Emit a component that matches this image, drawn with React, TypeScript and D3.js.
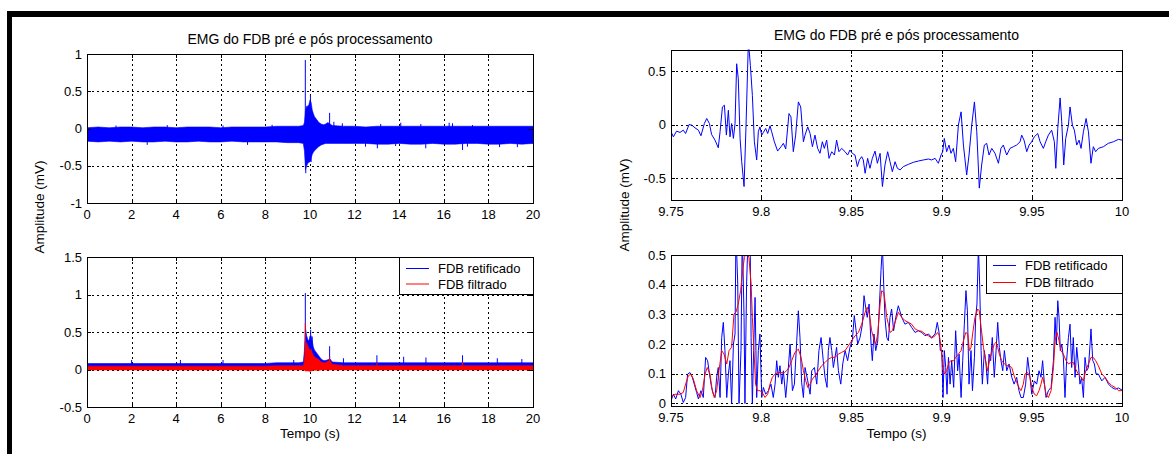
import React from "react";
import * as d3 from "d3";

// ---------------- tick data ----------------
const leftXTicks = [0, 2, 4, 6, 8, 10, 12, 14, 16, 18, 20];
const leftXLabels = ["0", "2", "4", "6", "8", "10", "12", "14", "16", "18", "20"];
const tlYTicks = [-1, -0.5, 0, 0.5, 1];
const tlYLabels = ["-1", "-0.5", "0", "0.5", "1"];
const blYTicks = [-0.5, 0, 0.5, 1, 1.5];
const blYLabels = ["-0.5", "0", "0.5", "1", "1.5"];
const rightXTicksMs = [0, 50, 100, 150, 200, 250];
const rightXLabels = ["9.75", "9.8", "9.85", "9.9", "9.95", "10"];
const trYTicks = [-0.5, 0, 0.5];
const trYLabels = ["-0.5", "0", "0.5"];
const brYTicks = [0, 0.1, 0.2, 0.3, 0.4, 0.5];
const brYLabels = ["0", "0.1", "0.2", "0.3", "0.4", "0.5"];

// ---------------- left panels: envelope of dense signal (s, mV) ----------------
const envT = [0, 0.5, 1, 1.5, 2, 2.5, 3, 3.5, 4, 4.5, 5, 5.5, 6, 6.5, 7, 7.5, 8, 8.5, 9, 9.5,
  9.7, 9.75, 9.8, 9.85, 9.9, 9.95, 10, 10.05, 10.1, 10.15, 10.2, 10.3, 10.4, 10.5, 10.6, 10.7, 10.8, 10.9, 11,
  11.5, 12, 12.5, 13, 13.5, 14, 14.5, 15, 15.5, 16, 16.5, 17, 17.5, 18, 18.5, 19, 19.5, 20];
const rawHi = [0.01, 0.02, 0.01, 0.02, 0.02, 0.01, 0.02, 0.02, 0.01, 0.02, 0.02, 0.02, 0.01, 0.02, 0.02, 0.02, 0.02, 0.03, 0.03, 0.03,
  0.04, 0.08, 0.25, 0.3, 0.3, 0.32, 0.38, 0.35, 0.25, 0.2, 0.16, 0.12, 0.08, 0.06, 0.05, 0.06, 0.08, 0.06, 0.04,
  0.03, 0.03, 0.02, 0.03, 0.03, 0.03, 0.03, 0.03, 0.03, 0.03, 0.03, 0.03, 0.03, 0.03, 0.03, 0.03, 0.03, 0.03];
const rawLo = [-0.17, -0.18, -0.17, -0.18, -0.17, -0.18, -0.18, -0.17, -0.18, -0.18, -0.17, -0.18, -0.18, -0.17, -0.18, -0.18, -0.18, -0.18, -0.19, -0.19,
  -0.2, -0.3, -0.55, -0.5, -0.47, -0.45, -0.45, -0.4, -0.35, -0.32, -0.3, -0.27, -0.24, -0.22, -0.21, -0.2, -0.2, -0.2, -0.2,
  -0.2, -0.2, -0.2, -0.21, -0.21, -0.2, -0.21, -0.21, -0.2, -0.21, -0.21, -0.2, -0.2, -0.21, -0.21, -0.2, -0.21, -0.2];
const rectHi = [0.08, 0.08, 0.08, 0.08, 0.08, 0.08, 0.08, 0.08, 0.08, 0.08, 0.08, 0.08, 0.08, 0.08, 0.08, 0.08, 0.08, 0.09, 0.09, 0.09,
  0.1, 0.25, 0.55, 0.45, 0.4, 0.38, 0.45, 0.45, 0.38, 0.3, 0.26, 0.22, 0.18, 0.14, 0.12, 0.12, 0.13, 0.14, 0.1,
  0.09, 0.09, 0.09, 0.09, 0.09, 0.09, 0.09, 0.09, 0.09, 0.09, 0.09, 0.09, 0.09, 0.09, 0.09, 0.09, 0.09, 0.09];
const filtHi = [0.045, 0.045, 0.045, 0.045, 0.045, 0.045, 0.045, 0.045, 0.045, 0.045, 0.045, 0.045, 0.045, 0.045, 0.045, 0.045, 0.045, 0.05, 0.05, 0.05,
  0.05, 0.12, 0.37, 0.35, 0.32, 0.28, 0.25, 0.27, 0.22, 0.19, 0.17, 0.15, 0.13, 0.1, 0.09, 0.09, 0.11, 0.12, 0.07,
  0.05, 0.05, 0.05, 0.05, 0.05, 0.05, 0.05, 0.05, 0.05, 0.05, 0.05, 0.05, 0.05, 0.05, 0.05, 0.05, 0.05, 0.05];
const filtLo = [-0.005, -0.005, -0.005, -0.005, -0.005, -0.005, -0.005, -0.005, -0.005, -0.005, -0.005, -0.005, -0.005, -0.005, -0.005, -0.005, -0.005, -0.005, -0.005, -0.005,
  -0.005, -0.01, -0.02, -0.02, -0.02, -0.02, -0.025, -0.02, -0.015, -0.01, -0.01, -0.01, -0.01, -0.005, -0.005, -0.005, -0.005, -0.005, -0.005,
  -0.005, -0.005, -0.005, -0.005, -0.005, -0.005, -0.005, -0.005, -0.005, -0.005, -0.005, -0.005, -0.005, -0.005, -0.005, -0.005, -0.005, -0.005];

// isolated spikes (s, mV)
const rawSpikeT = [9.79, 9.81, 10.02, 10.05, 10.88, 11.07, 11.45, 13.17, 14.07, 14.97, 16.24, 16.39, 17.29,
  1.3, 3.6, 6.1, 8.3, 12.49, 13.02, 13.84, 15.19, 16.84, 17.06, 18.5, 19.3, 2.7, 7.2];
const rawSpikeV = [0.92, -0.6, 0.45, -0.45, 0.21, 0.09, 0.07, 0.06, 0.078, 0.06, 0.078, 0.07, 0.047,
  0.04, 0.045, 0.04, 0.05, -0.244, -0.266, -0.235, -0.266, -0.289, -0.244, -0.25, -0.25, -0.22, -0.22];
const rectSpikeT = [9.79, 10.03, 10.1, 10.88, 13.0, 14.2, 15.2, 16.84, 2.0, 4.19, 6.1, 9.27, 11.5, 18.4, 19.5];
const rectSpikeV = [1.02, 0.53, 0.44, 0.31, 0.19, 0.17, 0.16, 0.19, 0.127, 0.127, 0.127, 0.127, 0.15, 0.15, 0.14];
const filtSpikeT = [9.79, 10.88, 16.84, 13.0];
const filtSpikeV = [0.62, 0.17, 0.1, 0.09];

// ---------------- right panels: 9.75 s .. 10 s (time in ms after 9.75 s) ----------------
const rawMs = [0, 1.3, 3.1, 5.0, 6.8, 8.1, 10.0, 11.5, 13.3, 15.2, 16.6, 18.5, 19.8, 21.3, 22.5, 24.4, 26.2, 27.2, 28.5, 29.6,
  30.7, 31.8, 32.7, 33.6, 34.6, 35.5, 36.4, 37.3, 38.3, 39.2, 40.5, 41.6, 42.9, 44.0, 45.1, 46.2, 47.5, 48.4, 49.3, 50.3,
  51.2, 52.5, 53.6, 54.9, 55.8, 57.3, 59.1, 61.0, 62.3, 63.6, 65.4, 66.5, 67.8, 69.1, 70.6, 71.9, 73.4, 74.3, 75.8, 77.1,
  78.4, 79.8, 81.3, 82.6, 83.9, 85.0, 86.3, 87.6, 89.1, 90.6, 91.8, 93.1, 94.6, 96.5, 97.9, 99.2, 100.5, 102.0, 103.3, 104.4,
  105.7, 106.6, 107.6, 109.0, 110.3, 111.6, 113.1, 114.4, 115.9, 117.2, 118.6, 120.1, 121.4, 122.7, 124.2, 125.5, 127.0, 128.8, 131.6, 134.3,
  137.1, 139.9, 142.7, 144.5, 146.4, 148.2, 149.7, 150.6, 151.5, 152.8, 154.1, 155.2, 156.5, 157.8, 159.3, 160.8, 162.1, 163.9, 165.2, 166.7,
  168.2, 169.5, 170.9, 172.2, 173.7, 175.0, 176.3, 177.8, 179.6, 181.5, 182.9, 184.2, 186.1, 187.9, 189.8, 191.6, 193.5, 194.4, 195.7, 197.2,
  198.5, 199.9, 201.4, 203.3, 204.6, 206.4, 207.7, 209.2, 211.0, 212.5, 213.3, 214.4, 215.7, 216.6, 217.7, 218.8, 220.3, 221.2, 222.5, 223.6,
  224.9, 226.2, 227.3, 228.6, 230.1, 231.4, 232.8, 234.1, 235.4, 236.9, 239.7, 242.4, 245.2, 248.0, 250.0];
const rawV = [-0.068, -0.115, -0.062, -0.074, -0.053, -0.084, 0, -0.006, -0.031, -0.053, -0.105, 0.009, 0.056, 0.009, -0.093, -0.146, -0.217, -0.068, 0.164, 0.18,
  -0.099, 0.133, -0.115, 0.009, -0.13, 0.009, 0.567, 0.427, -0.13, -0.347, -0.579, -0.006, 0.78, 0.551, 0.272, -0.161, -0.331, -0.068, -0.022, -0.099,
  -0.074, -0.037, -0.084, -0.012, -0.068, -0.161, -0.248, -0.207, -0.176, -0.229, 0.102, 0.071, -0.254, -0.099, 0.211, 0.164, -0.161, -0.099, -0.022, -0.084,
  -0.207, -0.099, -0.223, -0.269, -0.161, -0.223, -0.146, -0.316, -0.254, -0.285, -0.146, -0.254, -0.223, -0.254, -0.285, -0.238, -0.269, -0.285, -0.393, -0.331,
  -0.3, -0.331, -0.455, -0.316, -0.409, -0.316, -0.248, -0.362, -0.269, -0.579, -0.378, -0.254, -0.347, -0.44, -0.347, -0.409, -0.424, -0.393, -0.372, -0.353,
  -0.341, -0.331, -0.322, -0.331, -0.316, -0.362, -0.285, -0.254, -0.13, -0.254, -0.192, -0.269, -0.223, -0.347, -0.006, 0.118, -0.192, -0.471, -0.285, -0.006,
  0.211, -0.068, -0.594, -0.378, -0.192, -0.176, -0.285, -0.223, -0.269, -0.362, -0.223, -0.192, -0.285, -0.223, -0.207, -0.192, -0.161, -0.099, -0.146, -0.254,
  -0.192, -0.161, -0.115, -0.084, -0.161, -0.223, -0.161, -0.099, -0.053, -0.161, -0.409, -0.037, 0.248, 0.025, -0.378, -0.13, -0.006, 0.164, -0.006, -0.053,
  -0.192, -0.146, -0.223, -0.068, 0.056, -0.068, -0.362, -0.207, -0.254, -0.223, -0.207, -0.176, -0.161, -0.139, -0.146];

const rectMs = [0, 1.3, 2.6, 4.1, 5.5, 6.8, 8.1, 9.2, 10.5, 11.8, 12.9, 14.2, 15.2, 16.6, 17.9, 19.2, 20.3, 21.6, 22.5, 23.5,
  24.4, 25.3, 26.2, 27.2, 28.1, 29.0, 29.9, 30.9, 31.8, 32.7, 33.6, 34.6, 35.5, 36.0, 37.0, 37.7, 38.8, 39.5, 40.5, 41.0,
  41.9, 42.9, 43.8, 44.4, 45.1, 45.8, 46.6, 47.5, 48.4, 49.3, 50.3, 51.2, 52.5, 54.0, 55.4, 56.7, 57.7, 58.6, 59.5, 60.4,
  61.4, 62.3, 63.6, 65.0, 66.0, 67.3, 68.4, 69.7, 70.6, 71.5, 72.4, 73.4, 74.3, 75.8, 77.1, 78.0, 79.5, 80.8, 82.0, 83.2,
  84.4, 85.4, 86.5, 87.2, 88.1, 89.1, 90.0, 90.9, 91.8, 92.8, 94.1, 95.2, 96.5, 97.9, 99.2, 100.5, 101.6, 102.6, 103.5, 104.8,
  106.1, 107.0, 107.9, 108.8, 109.8, 110.9, 111.6, 112.5, 113.5, 114.6, 115.9, 116.4, 117.2, 117.9, 118.6, 119.6, 120.5, 121.4, 122.3, 123.4,
  124.6, 126.0, 127.9, 129.7, 131.6, 133.4, 135.3, 137.1, 139.0, 140.8, 142.7, 144.5, 146.4, 147.6, 148.6, 149.3, 150.1, 150.8, 151.5, 152.3,
  153.0, 153.8, 154.7, 155.6, 156.7, 157.8, 158.9, 159.7, 160.8, 161.7, 162.6, 163.5, 164.3, 165.2, 166.3, 167.1, 168.2, 168.9, 169.6, 170.4,
  171.1, 171.9, 172.6, 173.7, 174.6, 175.5, 176.3, 177.2, 178.1, 179.2, 180.2, 181.1, 182.0, 182.9, 183.9, 184.8, 186.1, 187.4, 188.9, 190.2,
  191.6, 192.9, 194.0, 195.3, 196.6, 197.7, 199.0, 200.0, 201.4, 202.7, 204.0, 205.1, 206.0, 207.0, 207.9, 209.2, 210.7, 212.0, 212.9, 213.6,
  214.4, 215.1, 215.8, 216.6, 217.5, 218.4, 219.3, 220.3, 221.2, 222.1, 223.0, 224.0, 224.9, 225.8, 226.7, 227.6, 228.6, 229.5, 230.4, 231.4,
  232.3, 232.8, 233.8, 234.7, 235.6, 236.9, 238.8, 240.6, 242.5, 244.3, 246.2, 248.0, 250.0];
const rectV = [0.009, 0.031, 0.015, 0.043, 0.031, 0.003, 0.02, 0.099, 0.104, 0.088, 0.065, 0.037, 0.015, 0.043, 0.02, 0.155, 0.144, 0.088, 0.054, 0.031,
  0.02, 0.088, 0.121, 0.02, 0.222, 0.273, 0.178, 0.02, 0.099, 0.144, 0.0, 0.2, 0.234, 0.58, 0.402, 0.0, 0.178, 0.58, 0.29, 0.0,
  0.402, 0.6, 0.6, 0.222, 0.0, 0.178, 0.357, 0.02, 0.178, 0.234, 0.02, 0.054, 0.031, 0.043, 0.065, 0.02, 0.065, 0.144, 0.088, 0.127,
  0.065, 0.11, 0.02, 0.116, 0.2, 0.043, 0.065, 0.211, 0.312, 0.222, 0.071, 0.02, 0.121, 0.076, 0.031, 0.11, 0.121, 0.065, 0.178, 0.222,
  0.144, 0.088, 0.054, 0.178, 0.222, 0.178, 0.121, 0.155, 0.189, 0.11, 0.065, 0.133, 0.178, 0.144, 0.189, 0.211, 0.296, 0.245, 0.2, 0.222,
  0.267, 0.363, 0.324, 0.29, 0.335, 0.2, 0.144, 0.234, 0.178, 0.211, 0.38, 0.447, 0.53, 0.402, 0.29, 0.222, 0.211, 0.29, 0.318, 0.245,
  0.29, 0.329, 0.29, 0.267, 0.273, 0.256, 0.239, 0.245, 0.239, 0.228, 0.234, 0.222, 0.234, 0.273, 0.239, 0.178, 0.178, 0.02, 0.178, 0.121,
  0.031, 0.155, 0.065, 0.144, 0.054, 0.245, 0.11, 0.166, 0.02, 0.144, 0.267, 0.38, 0.312, 0.065, 0.178, 0.043, 0.155, 0.29, 0.335, 0.53,
  0.402, 0.178, 0.065, 0.178, 0.133, 0.065, 0.166, 0.144, 0.222, 0.088, 0.178, 0.273, 0.189, 0.144, 0.11, 0.178, 0.11, 0.133, 0.088, 0.065,
  0.088, 0.043, 0.02, 0.02, 0.065, 0.155, 0.088, 0.031, 0.076, 0.065, 0.11, 0.088, 0.144, 0.065, 0.02, 0.043, 0.054, 0.144, 0.29, 0.2,
  0.346, 0.29, 0.178, 0.2, 0.155, 0.02, 0.144, 0.222, 0.267, 0.121, 0.222, 0.088, 0.189, 0.133, 0.065, 0.088, 0.02, 0.155, 0.11, 0.121,
  0.2, 0.251, 0.144, 0.133, 0.099, 0.099, 0.076, 0.088, 0.065, 0.054, 0.048, 0.052, 0.045];

const filtMs = [0, 2.2, 5.0, 6.8, 8.1, 9.6, 11.1, 12.4, 14.2, 16.1, 17.4, 18.9, 20.1, 21.6, 22.9, 24.0, 25.3, 26.6, 28.1, 29.4,
  30.9, 32.2, 33.6, 34.9, 36.0, 37.3, 38.6, 39.7, 40.7, 41.9, 43.2, 44.4, 45.1, 46.0, 46.9, 47.9, 49.3, 50.6, 52.1, 53.6,
  54.9, 56.2, 57.7, 59.5, 61.4, 62.8, 64.1, 65.4, 66.9, 68.7, 70.6, 72.1, 73.4, 74.7, 75.8, 77.1, 78.4, 79.8, 81.7, 83.5,
  85.4, 87.2, 89.1, 90.9, 92.8, 94.6, 96.5, 98.3, 100.2, 102.0, 103.9, 105.7, 107.6, 108.8, 110.0, 111.2, 112.7, 113.5, 114.6, 115.9,
  116.8, 117.9, 118.6, 119.6, 120.5, 121.4, 122.7, 124.2, 126.0, 127.9, 129.7, 131.6, 133.4, 135.3, 137.1, 139.0, 140.8, 142.7, 144.5, 146.4,
  147.8, 148.8, 149.7, 150.6, 151.5, 152.8, 154.1, 155.2, 156.7, 157.8, 159.3, 160.8, 162.1, 163.4, 164.5, 165.4, 166.3, 167.2, 168.5, 170.0,
  170.9, 171.9, 173.2, 174.4, 175.5, 176.9, 178.1, 179.2, 180.2, 181.1, 182.0, 183.3, 184.8, 186.1, 187.4, 188.9, 190.2, 191.6, 192.9, 194.0,
  195.3, 196.2, 197.7, 199.0, 200.0, 201.4, 202.7, 204.0, 205.1, 206.0, 207.0, 207.9, 209.2, 210.7, 212.0, 212.9, 214.0, 215.1, 216.2, 217.5,
  219.0, 220.3, 221.8, 223.0, 224.3, 225.8, 227.3, 228.6, 229.9, 231.4, 232.8, 234.1, 235.4, 236.9, 238.8, 240.6, 242.5, 244.3, 246.2, 248.0, 250.0];
const filtV = [0.02, 0.031, 0.031, 0.037, 0.065, 0.093, 0.099, 0.082, 0.043, 0.02, 0.043, 0.099, 0.121, 0.099, 0.043, 0.02, 0.043, 0.11, 0.178, 0.166,
  0.133, 0.178, 0.189, 0.301, 0.307, 0.335, 0.38, 0.447, 0.492, 0.51, 0.492, 0.402, 0.29, 0.178, 0.065, 0.043, 0.043, 0.037, 0.02, 0.031,
  0.065, 0.088, 0.099, 0.104, 0.104, 0.104, 0.11, 0.121, 0.144, 0.172, 0.183, 0.155, 0.11, 0.076, 0.054, 0.065, 0.082, 0.093, 0.11, 0.127,
  0.138, 0.149, 0.155, 0.155, 0.166, 0.172, 0.178, 0.194, 0.211, 0.228, 0.239, 0.267, 0.307, 0.324, 0.301, 0.245, 0.211, 0.2, 0.234, 0.335,
  0.38, 0.374, 0.346, 0.29, 0.267, 0.239, 0.245, 0.273, 0.307, 0.29, 0.279, 0.273, 0.267, 0.251, 0.245, 0.243, 0.234, 0.228, 0.22, 0.228,
  0.239, 0.228, 0.189, 0.133, 0.099, 0.11, 0.138, 0.144, 0.144, 0.155, 0.166, 0.178, 0.211, 0.239, 0.234, 0.178, 0.189, 0.234, 0.29, 0.318,
  0.312, 0.256, 0.189, 0.144, 0.11, 0.155, 0.178, 0.2, 0.206, 0.189, 0.166, 0.144, 0.133, 0.127, 0.127, 0.121, 0.093, 0.071, 0.054, 0.043,
  0.065, 0.099, 0.104, 0.088, 0.054, 0.031, 0.026, 0.043, 0.065, 0.088, 0.065, 0.031, 0.02, 0.043, 0.121, 0.211, 0.239, 0.211, 0.178, 0.166,
  0.144, 0.133, 0.138, 0.138, 0.116, 0.099, 0.088, 0.076, 0.11, 0.133, 0.155, 0.155, 0.144, 0.127, 0.099, 0.088, 0.071, 0.06, 0.054, 0.043, 0.043];

// ---------------- text ----------------
const titleText = "EMG do FDB pré e pós processamento";
const yLabelText = "Amplitude (mV)";
const xLabelText = "Tempo (s)";
const legendLabels = ["FDB retificado", "FDB filtrado"];
const seriesColors = ["#0000ff", "#ff0000"];

const FONT = "'Liberation Sans', Arial, Helvetica, sans-serif";

type Scale = d3.ScaleLinear<number, number>;

type PanelProps = {
  id: string;
  x0: number; x1: number; y0: number; y1: number;
  xDomain: [number, number]; yDomain: [number, number];
  xTicks: number[]; xLabels: string[];
  yTicks: number[]; yLabels: string[];
  render: (x: Scale, y: Scale) => React.ReactNode;
};

function Panel(p: PanelProps) {
  const x = d3.scaleLinear().domain(p.xDomain).range([p.x0, p.x1]);
  const y = d3.scaleLinear().domain(p.yDomain).range([p.y1, p.y0]);
  const tl = 4;
  return (
    <g>
      <defs>
        <clipPath id={p.id}>
          <rect x={p.x0} y={p.y0} width={p.x1 - p.x0} height={p.y1 - p.y0} />
        </clipPath>
      </defs>
      <rect x={p.x0} y={p.y0} width={p.x1 - p.x0} height={p.y1 - p.y0} fill="#fff" />
      <g stroke="#000" strokeWidth={1} strokeDasharray="2,3" shapeRendering="crispEdges">
        {p.xTicks.map((t, i) => (
          <line key={"gx" + i} x1={Math.round(x(t)) + 0.5} x2={Math.round(x(t)) + 0.5} y1={p.y0} y2={p.y1} />
        ))}
        {p.yTicks.map((t, i) => (
          <line key={"gy" + i} x1={p.x0} x2={p.x1} y1={Math.round(y(t)) + 0.5} y2={Math.round(y(t)) + 0.5} />
        ))}
      </g>
      <g clipPath={`url(#${p.id})`}>{p.render(x, y)}</g>
      <g stroke="#000" strokeWidth={1} shapeRendering="crispEdges">
        {p.xTicks.map((t, i) => (
          <g key={"tx" + i}>
            <line x1={Math.round(x(t)) + 0.5} x2={Math.round(x(t)) + 0.5} y1={p.y1} y2={p.y1 - tl} />
            <line x1={Math.round(x(t)) + 0.5} x2={Math.round(x(t)) + 0.5} y1={p.y0} y2={p.y0 + tl} />
          </g>
        ))}
        {p.yTicks.map((t, i) => (
          <g key={"ty" + i}>
            <line x1={p.x0} x2={p.x0 + tl} y1={Math.round(y(t)) + 0.5} y2={Math.round(y(t)) + 0.5} />
            <line x1={p.x1} x2={p.x1 - tl} y1={Math.round(y(t)) + 0.5} y2={Math.round(y(t)) + 0.5} />
          </g>
        ))}
        <rect x={Math.round(p.x0) + 0.5} y={Math.round(p.y0) + 0.5} width={Math.round(p.x1 - p.x0)} height={Math.round(p.y1 - p.y0)} fill="none" />
      </g>
      <g fontFamily={FONT} fontSize={13} fill="#000">
        {p.xTicks.map((t, i) => (
          <text key={"lx" + i} x={x(t)} y={p.y1 + 16} textAnchor="middle">{p.xLabels[i]}</text>
        ))}
        {p.yTicks.map((t, i) => (
          <text key={"ly" + i} x={p.x0 - 5} y={y(t)} dy="0.36em" textAnchor="end">{p.yLabels[i]}</text>
        ))}
      </g>
    </g>
  );
}

function spikePath(x: Scale, y: Scale, ts: number[], vs: number[], base: number) {
  return ts.map((t, i) => `M${x(t)},${y(base)}L${x(t)},${y(vs[i])}`).join("");
}

function Legend({ x0, y0, x1, y1, rows }: { x0: number; y0: number; x1: number; y1: number; rows: number[] }) {
  return (
    <g>
      <rect x={x0 + 0.5} y={y0 + 0.5} width={x1 - x0} height={y1 - y0} fill="#fff" stroke="#000" shapeRendering="crispEdges" />
      {legendLabels.map((lab, i) => (
        <g key={lab}>
          <line x1={x0 + 7} x2={x0 + 30} y1={rows[i]} y2={rows[i]} stroke={seriesColors[i]} strokeWidth={1} />
          <text x={x0 + 39} y={rows[i]} dy="0.36em" fontFamily={FONT} fontSize={13}>{lab}</text>
        </g>
      ))}
    </g>
  );
}

export default function App() {
  const rawLine = (x: Scale, y: Scale) =>
    d3.line<number>().x((_, i) => x(rawMs[i])).y((v) => y(v))(rawV) || "";
  const rectLine = (x: Scale, y: Scale) =>
    d3.line<number>().x((_, i) => x(rectMs[i])).y((v) => y(v))(rectV) || "";
  const filtLine = (x: Scale, y: Scale) =>
    d3.line<number>().x((_, i) => x(filtMs[i])).y((v) => y(v))(filtV) || "";

  return (
    <svg width={1169} height={454} style={{ position: "absolute", left: 0, top: 0, background: "#fff" }}>
      <rect x={0} y={0} width={1169} height={454} fill="#fff" />
      <rect x={7} y={11} width={1162} height={6} fill="#000" />
      <rect x={7} y={11} width={5} height={443} fill="#000" />

      {/* top-left */}
      <Panel id="tl" x0={87} x1={533} y0={54} y1={203} xDomain={[0, 20]} yDomain={[-1, 1]}
        xTicks={leftXTicks} xLabels={leftXLabels} yTicks={tlYTicks} yLabels={tlYLabels}
        render={(x, y) => (
          <g>
            <path d={d3.area<number>().x((_, i) => x(envT[i])).y0((_, i) => y(rawLo[i])).y1((v) => y(v))(rawHi) || ""} fill="#0000ff" stroke="#0000ff" strokeWidth={0.6} />
            <path d={spikePath(x, y, rawSpikeT, rawSpikeV, -0.08)} stroke="#0000ff" strokeWidth={1} fill="none" />
          </g>
        )} />

      {/* bottom-left */}
      <Panel id="bl" x0={87} x1={533} y0={257} y1={407} xDomain={[0, 20]} yDomain={[-0.5, 1.5]}
        xTicks={leftXTicks} xLabels={leftXLabels} yTicks={blYTicks} yLabels={blYLabels}
        render={(x, y) => (
          <g>
            <path d={d3.area<number>().x((_, i) => x(envT[i])).y0(() => y(0)).y1((v) => y(v))(rectHi) || ""} fill="#0000ff" stroke="#0000ff" strokeWidth={0.6} />
            <path d={spikePath(x, y, rectSpikeT, rectSpikeV, 0)} stroke="#0000ff" strokeWidth={1} fill="none" />
            <path d={d3.area<number>().x((_, i) => x(envT[i])).y0((_, i) => y(filtLo[i])).y1((v) => y(v))(filtHi) || ""} fill="#ff0000" stroke="#ff0000" strokeWidth={0.6} />
            <path d={spikePath(x, y, filtSpikeT, filtSpikeV, 0)} stroke="#ff0000" strokeWidth={1} fill="none" />
          </g>
        )} />
      <Legend x0={399} y0={257} x1={533} y1={294} rows={[268.5, 284]} />

      {/* top-right */}
      <Panel id="tr" x0={671} x1={1122} y0={49.5} y1={199.5} xDomain={[0, 250]} yDomain={[-0.7, 0.7]}
        xTicks={rightXTicksMs} xLabels={rightXLabels} yTicks={trYTicks} yLabels={trYLabels}
        render={(x, y) => <path d={rawLine(x, y)} fill="none" stroke="#0000ff" strokeWidth={1} />} />

      {/* bottom-right */}
      <Panel id="br" x0={671} x1={1122} y0={255} y1={405.5} xDomain={[0, 250]} yDomain={[-0.007, 0.5]}
        xTicks={rightXTicksMs} xLabels={rightXLabels} yTicks={brYTicks} yLabels={brYLabels}
        render={(x, y) => (
          <g>
            <path d={rectLine(x, y)} fill="none" stroke="#0000ff" strokeWidth={1} />
            <path d={filtLine(x, y)} fill="none" stroke="#ff0000" strokeWidth={1} />
          </g>
        )} />
      <Legend x0={986} y0={255} x1={1122} y1={293} rows={[265.5, 282.5]} />

      {/* titles & labels */}
      <g fontFamily={FONT} fill="#000">
        <text x={310} y={43.5} fontSize={14} textAnchor="middle">{titleText}</text>
        <text x={896.5} y={39.5} fontSize={14} textAnchor="middle">{titleText}</text>
        <text transform="translate(44,207) rotate(-90)" fontSize={13.5} textAnchor="middle">{yLabelText}</text>
        <text transform="translate(629,205) rotate(-90)" fontSize={13.5} textAnchor="middle">{yLabelText}</text>
        <text x={310} y={438} fontSize={13.5} textAnchor="middle">{xLabelText}</text>
        <text x={896.5} y={438} fontSize={13.5} textAnchor="middle">{xLabelText}</text>
      </g>
    </svg>
  );
}
